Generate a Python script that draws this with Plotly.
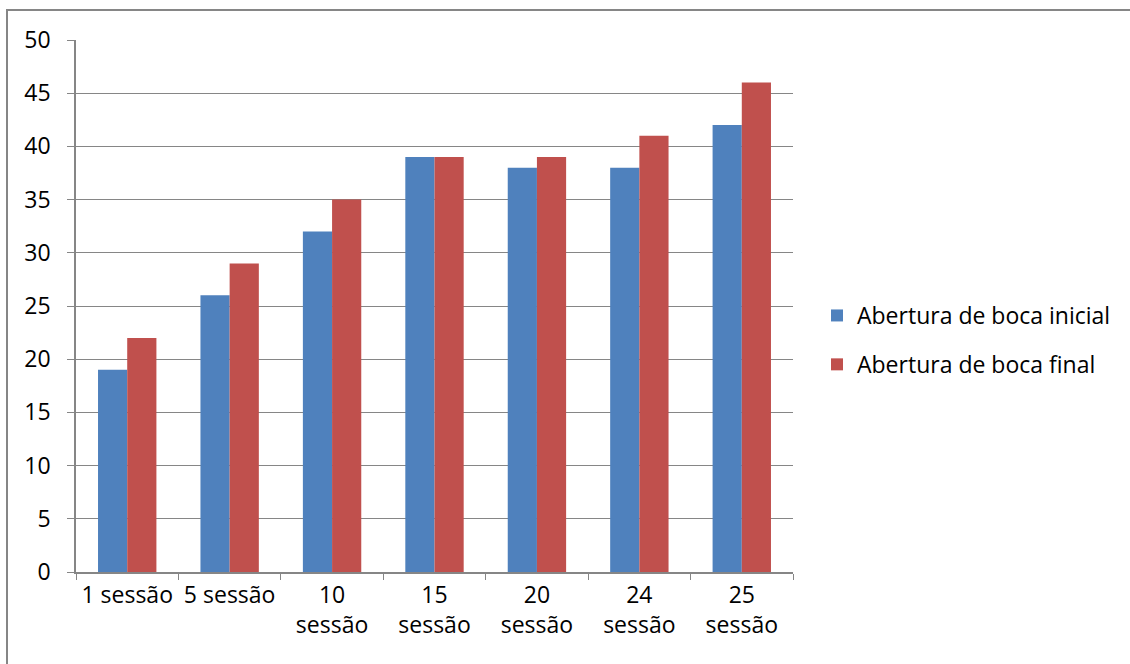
import plotly.graph_objects as go

categories = ["1 sessão", "5 sessão", "10<br>sessão", "15<br>sessão", "20<br>sessão", "24<br>sessão", "25<br>sessão"]
inicial = [19, 26, 32, 39, 38, 38, 42]
final = [22, 29, 35, 39, 39, 41, 46]
y_ticks = [0, 5, 10, 15, 20, 25, 30, 35, 40, 45, 50]

FONT = "Open Sans"
fig = go.Figure()
fig.add_trace(go.Bar(x=categories, y=inicial, name="Abertura de boca inicial",
                     marker=dict(color="#4F81BD", line=dict(width=0)), legendgroup="a"))
fig.add_trace(go.Bar(x=categories, y=final, name="Abertura de boca final",
                     marker=dict(color="#C0504D", line=dict(width=0)), legendgroup="b"))

L, R, T, B = 76, 793, 40, 572
W, H = 1130, 664
pw, ph = R - L, B - T

fig.update_layout(
    width=W, height=H,
    margin=dict(l=L, r=W - R, t=T, b=H - B),
    paper_bgcolor="white", plot_bgcolor="white",
    font=dict(family=FONT, size=23, color="black"),
    barmode="group", bargap=0.43, bargroupgap=0,
    showlegend=True,
    legend=dict(x=(817 - L) / pw, y=(572 - 340) / ph, xanchor="left", yanchor="middle",
                tracegroupgap=16, font=dict(size=23), itemwidth=30),
    xaxis=dict(showline=True, linecolor="#868686", linewidth=1.5, ticks="outside",
               tickson="boundaries", ticklen=6, tickcolor="#868686", showgrid=False,
               ticklabelstandoff=2),
    yaxis=dict(range=[0, 50], tickvals=y_ticks, showline=True, linecolor="#868686", linewidth=1.5,
               ticks="outside", ticklen=7, tickcolor="#868686", showgrid=True,
               gridcolor="#868686", gridwidth=1.2, zeroline=False, ticklabelstandoff=12),
    shapes=[dict(type="rect", xref="paper", yref="paper",
                 x0=(7 - L) / pw, x1=(1140 - L) / pw, y0=(B - 680) / ph, y1=(B - 10) / ph,
                 line=dict(color="#868686", width=2), layer="below")],
)

fig.write_html("out.html")
